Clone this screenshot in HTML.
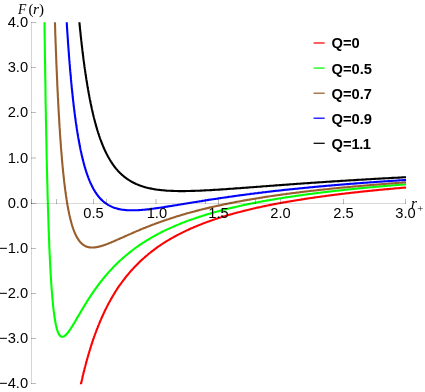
<!DOCTYPE html><html><head><meta charset="utf-8"><style>
html,body{margin:0;padding:0;background:#fff}
body{width:425px;height:392px;position:relative;overflow:hidden;font-family:"Liberation Sans",sans-serif;color:#000}
#w{position:absolute;left:0;top:0;width:425px;height:392px;will-change:transform}
.t{position:absolute;font-size:14.7px;line-height:16px;white-space:nowrap}
.yl{right:396.9px;text-align:right}
.xl{transform:translateX(-50%)}
.lg{font-weight:bold;left:331.6px}
.s{font-family:"Liberation Serif",serif;line-height:0;position:absolute}
.i{font-style:italic}
</style></head><body><div id="w">
<svg width="425" height="392" viewBox="0 0 425 392" style="position:absolute;left:0;top:0">
<defs><clipPath id="cp"><rect x="31" y="22.25" width="375.2" height="362.00"/></clipPath></defs>
<g fill="none" stroke-width="2.1" stroke-linejoin="round" clip-path="url(#cp)">
<path d="M75.7,410.4L75.9,409.6L76.0,408.8L76.2,408.0L76.3,407.3L76.5,406.5L76.6,405.7L76.7,404.9L76.9,404.2L77.0,403.4L77.2,402.6L77.3,401.9L77.5,401.1L77.6,400.4L77.7,399.6L77.9,398.9L78.0,398.2L78.2,397.5L78.3,396.7L78.5,396.0L78.6,395.3L78.7,394.6L78.9,393.9L79.0,393.2L79.2,392.5L79.3,391.8L79.5,391.1L79.6,390.4L79.7,389.7L79.9,389.1L80.0,388.4L80.2,387.7L80.3,387.0L80.5,386.4L80.6,385.7L80.7,385.1L80.9,384.4L81.0,383.8L81.2,383.1L81.3,382.5L81.5,381.9L81.6,381.2L81.7,380.6L81.9,380.0L82.0,379.4L82.2,378.7L82.3,378.1L82.4,377.5L82.6,376.9L82.7,376.3L82.9,375.7L83.0,375.1L83.2,374.5L83.3,373.9L83.4,373.3L83.6,372.7L83.7,372.2L83.9,371.6L84.0,371.0L84.2,370.4L84.3,369.9L84.4,369.3L84.6,368.7L84.7,368.2L84.9,367.6L85.0,367.1L85.2,366.5L85.3,366.0L85.4,365.4L85.6,364.9L85.7,364.3L85.9,363.8L86.0,363.3L86.2,362.7L86.3,362.2L86.4,361.7L86.6,361.2L86.7,360.6L86.9,360.1L87.0,359.6L87.2,359.1L87.3,358.6L87.4,358.1L87.6,357.6L87.7,357.1L87.9,356.6L88.0,356.1L88.2,355.6L88.3,355.1L88.4,354.6L88.6,354.1L88.7,353.6L88.9,353.1L89.0,352.7L89.2,352.2L89.3,351.7L89.4,351.2L89.6,350.8L89.7,350.3L89.9,349.8L90.0,349.4L90.2,348.9L90.3,348.4L90.4,348.0L90.6,347.5L90.7,347.1L90.9,346.6L91.0,346.2L91.2,345.7L91.3,345.3L91.4,344.9L91.6,344.4L91.7,344.0L91.9,343.5L92.0,343.1L92.2,342.7L92.3,342.2L92.4,341.8L92.6,341.4L92.7,341.0L92.9,340.5L93.0,340.1L93.1,339.7L93.3,339.3L93.4,338.9L93.6,338.5L93.7,338.0L93.9,337.6L94.0,337.2L94.1,336.8L94.3,336.4L94.4,336.0L94.6,335.6L94.7,335.2L94.9,334.8L95.0,334.4L95.1,334.0L95.3,333.6L95.4,333.3L95.6,332.9L95.7,332.5L95.9,332.1L96.0,331.7L96.1,331.3L96.3,331.0L96.4,330.6L96.6,330.2L96.7,329.8L96.9,329.5L97.0,329.1L97.1,328.7L97.3,328.4L97.4,328.0L97.6,327.6L97.7,327.3L97.9,326.9L98.0,326.5L98.1,326.2L98.3,325.8L98.4,325.5L98.6,325.1L98.7,324.8L98.9,324.4L99.0,324.1L99.1,323.7L99.3,323.4L99.4,323.0L99.6,322.7L99.7,322.3L99.9,322.0L100.0,321.7L100.1,321.3L100.3,321.0L100.4,320.6L100.6,320.3L100.7,320.0L100.9,319.6L101.0,319.3L101.1,319.0L101.3,318.7L101.4,318.3L101.6,318.0L101.7,317.7L101.9,317.4L102.0,317.0L102.1,316.7L102.3,316.4L102.4,316.1L102.6,315.8L102.7,315.5L102.9,315.2L103.0,314.8L103.1,314.5L103.3,314.2L103.4,313.9L103.6,313.6L103.7,313.3L103.8,313.0L104.0,312.7L104.1,312.4L104.3,312.1L104.4,311.8L104.6,311.5L104.7,311.2L104.8,310.9L105.0,310.6L105.1,310.3L105.3,310.0L105.4,309.7L105.6,309.4L105.7,309.1L105.8,308.9L106.0,308.6L107.0,306.6L108.0,304.6L109.0,302.8L110.0,300.9L111.0,299.1L112.0,297.4L113.0,295.7L114.0,294.0L115.0,292.4L116.0,290.8L117.0,289.2L118.0,287.7L119.0,286.2L120.0,284.8L121.1,283.4L122.1,282.0L123.1,280.6L124.1,279.3L125.1,278.0L126.1,276.7L127.1,275.5L128.1,274.3L129.1,273.1L130.1,271.9L131.1,270.8L132.1,269.7L133.1,268.6L134.1,267.5L135.1,266.4L136.1,265.4L137.1,264.4L138.1,263.4L139.1,262.4L140.1,261.4L141.1,260.5L142.1,259.6L143.1,258.7L144.2,257.8L145.2,256.9L146.2,256.0L147.2,255.2L148.2,254.3L149.2,253.5L150.2,252.7L151.2,251.9L152.2,251.1L153.2,250.4L154.2,249.6L155.2,248.9L156.2,248.1L157.2,247.4L158.2,246.7L159.2,246.0L160.2,245.3L161.2,244.7L162.2,244.0L163.2,243.3L164.2,242.7L165.2,242.1L166.2,241.4L167.2,240.8L168.3,240.2L169.3,239.6L170.3,239.0L171.3,238.4L172.3,237.9L173.3,237.3L174.3,236.7L175.3,236.2L176.3,235.7L177.3,235.1L178.3,234.6L179.3,234.1L180.3,233.6L181.3,233.1L182.3,232.6L183.3,232.1L184.3,231.6L185.3,231.1L186.3,230.6L187.3,230.1L188.3,229.7L189.3,229.2L190.3,228.8L191.3,228.3L192.4,227.9L193.4,227.5L194.4,227.0L195.4,226.6L196.4,226.2L197.4,225.8L198.4,225.4L199.4,225.0L200.4,224.6L201.4,224.2L202.4,223.8L203.4,223.4L204.4,223.0L205.4,222.6L206.4,222.3L207.4,221.9L208.4,221.5L209.4,221.2L210.4,220.8L211.4,220.5L212.4,220.1L213.4,219.8L214.4,219.4L215.4,219.1L216.5,218.8L217.5,218.4L218.5,218.1L219.5,217.8L220.5,217.5L221.5,217.1L222.5,216.8L223.5,216.5L224.5,216.2L225.5,215.9L226.5,215.6L227.5,215.3L228.5,215.0L229.5,214.7L230.5,214.4L231.5,214.2L232.5,213.9L233.5,213.6L234.5,213.3L235.5,213.1L236.5,212.8L237.5,212.5L238.5,212.2L239.6,212.0L240.6,211.7L241.6,211.5L242.6,211.2L243.6,210.9L244.6,210.7L245.6,210.4L246.6,210.2L247.6,210.0L248.6,209.7L249.6,209.5L250.6,209.2L251.6,209.0L252.6,208.8L253.6,208.5L254.6,208.3L255.6,208.1L256.6,207.8L257.6,207.6L258.6,207.4L259.6,207.2L260.6,207.0L261.6,206.7L262.6,206.5L263.7,206.3L264.7,206.1L265.7,205.9L266.7,205.7L267.7,205.5L268.7,205.3L269.7,205.1L270.7,204.9L271.7,204.7L272.7,204.5L273.7,204.3L274.7,204.1L275.7,203.9L276.7,203.7L277.7,203.5L278.7,203.3L279.7,203.2L280.7,203.0L281.7,202.8L282.7,202.6L283.7,202.4L284.7,202.2L285.7,202.1L286.7,201.9L287.8,201.7L288.8,201.5L289.8,201.4L290.8,201.2L291.8,201.0L292.8,200.9L293.8,200.7L294.8,200.5L295.8,200.4L296.8,200.2L297.8,200.0L298.8,199.9L299.8,199.7L300.8,199.6L301.8,199.4L302.8,199.2L303.8,199.1L304.8,198.9L305.8,198.8L306.8,198.6L307.8,198.5L308.8,198.3L309.8,198.2L310.8,198.0L311.9,197.9L312.9,197.7L313.9,197.6L314.9,197.4L315.9,197.3L316.9,197.2L317.9,197.0L318.9,196.9L319.9,196.7L320.9,196.6L321.9,196.5L322.9,196.3L323.9,196.2L324.9,196.1L325.9,195.9L326.9,195.8L327.9,195.7L328.9,195.5L329.9,195.4L330.9,195.3L331.9,195.1L332.9,195.0L333.9,194.9L335.0,194.8L336.0,194.6L337.0,194.5L338.0,194.4L339.0,194.3L340.0,194.1L341.0,194.0L342.0,193.9L343.0,193.8L344.0,193.7L345.0,193.5L346.0,193.4L347.0,193.3L348.0,193.2L349.0,193.1L350.0,193.0L351.0,192.8L352.0,192.7L353.0,192.6L354.0,192.5L355.0,192.4L356.0,192.3L357.0,192.2L358.0,192.1L359.1,192.0L360.1,191.8L361.1,191.7L362.1,191.6L363.1,191.5L364.1,191.4L365.1,191.3L366.1,191.2L367.1,191.1L368.1,191.0L369.1,190.9L370.1,190.8L371.1,190.7L372.1,190.6L373.1,190.5L374.1,190.4L375.1,190.3L376.1,190.2L377.1,190.1L378.1,190.0L379.1,189.9L380.1,189.8L381.1,189.7L382.1,189.6L383.2,189.5L384.2,189.4L385.2,189.3L386.2,189.2L387.2,189.1L388.2,189.1L389.2,189.0L390.2,188.9L391.2,188.8L392.2,188.7L393.2,188.6L394.2,188.5L395.2,188.4L396.2,188.3L397.2,188.2L398.2,188.2L399.2,188.1L400.2,188.0L401.2,187.9L402.2,187.8L403.2,187.7L404.2,187.6L405.2,187.6L406.2,187.5" stroke="#ff0000"/>
<path d="M44.2,-3.2L44.4,9.2L44.5,21.2L44.6,32.8L44.8,43.9L44.9,54.5L45.1,64.8L45.2,74.6L45.4,84.1L45.5,93.2L45.6,102.0L45.8,110.5L45.9,118.6L46.1,126.5L46.2,134.0L46.4,141.3L46.5,148.3L46.6,155.1L46.8,161.6L46.9,167.9L47.1,174.0L47.2,179.8L47.4,185.4L47.5,190.9L47.6,196.1L47.8,201.2L47.9,206.1L48.1,210.8L48.2,215.4L48.4,219.8L48.5,224.0L48.6,228.2L48.8,232.1L48.9,235.9L49.1,239.6L49.2,243.2L49.3,246.7L49.5,250.0L49.6,253.2L49.8,256.4L49.9,259.4L50.1,262.3L50.2,265.1L50.3,267.8L50.5,270.4L50.6,273.0L50.8,275.4L50.9,277.8L51.1,280.1L51.2,282.3L51.3,284.4L51.5,286.5L51.6,288.5L51.8,290.4L51.9,292.3L52.1,294.1L52.2,295.8L52.3,297.5L52.5,299.1L52.6,300.7L52.8,302.2L52.9,303.7L53.1,305.1L53.2,306.5L53.3,307.8L53.5,309.1L53.6,310.3L53.8,311.5L53.9,312.6L54.1,313.7L54.2,314.8L54.3,315.8L54.5,316.8L54.6,317.8L54.8,318.7L54.9,319.6L55.1,320.4L55.2,321.3L55.3,322.1L55.5,322.8L55.6,323.6L55.8,324.3L55.9,325.0L56.1,325.6L56.2,326.2L56.3,326.8L56.5,327.4L56.6,328.0L56.8,328.5L56.9,329.0L57.1,329.5L57.2,330.0L57.3,330.4L57.5,330.8L57.6,331.2L57.8,331.6L57.9,332.0L58.1,332.4L58.2,332.7L58.3,333.0L58.5,333.3L58.6,333.6L58.8,333.9L58.9,334.1L59.1,334.4L59.2,334.6L59.3,334.8L59.5,335.0L59.6,335.2L59.8,335.4L59.9,335.6L60.0,335.7L60.2,335.9L60.3,336.0L60.5,336.1L60.6,336.2L60.8,336.3L60.9,336.4L61.0,336.5L61.2,336.5L61.3,336.6L61.5,336.7L61.6,336.7L61.8,336.7L61.9,336.8L62.0,336.8L62.2,336.8L62.3,336.8L62.5,336.8L62.6,336.8L62.8,336.7L62.9,336.7L63.0,336.7L63.2,336.6L63.3,336.6L63.5,336.5L63.6,336.5L63.8,336.4L63.9,336.3L64.0,336.3L64.2,336.2L64.3,336.1L64.5,336.0L64.6,335.9L64.8,335.8L64.9,335.7L65.0,335.6L65.2,335.5L65.3,335.3L65.5,335.2L65.6,335.1L65.8,335.0L65.9,334.8L66.0,334.7L66.2,334.5L66.3,334.4L66.5,334.2L66.6,334.1L66.8,333.9L66.9,333.8L67.0,333.6L67.2,333.4L67.3,333.3L67.5,333.1L67.6,332.9L67.8,332.8L67.9,332.6L68.0,332.4L68.2,332.2L68.3,332.0L68.5,331.8L68.6,331.6L68.8,331.4L68.9,331.2L69.0,331.0L69.2,330.9L69.3,330.6L69.5,330.4L69.6,330.2L69.8,330.0L69.9,329.8L70.0,329.6L70.2,329.4L70.3,329.2L70.5,329.0L70.6,328.8L70.8,328.5L70.9,328.3L71.0,328.1L71.2,327.9L71.3,327.7L71.5,327.4L71.6,327.2L71.7,327.0L71.9,326.8L72.0,326.5L72.2,326.3L72.3,326.1L72.5,325.8L72.6,325.6L72.7,325.4L72.9,325.1L73.0,324.9L73.2,324.7L73.3,324.4L73.5,324.2L73.6,324.0L73.7,323.7L73.9,323.5L74.0,323.3L74.2,323.0L74.3,322.8L74.5,322.5L74.6,322.3L74.7,322.1L74.9,321.8L75.0,321.6L75.2,321.3L75.3,321.1L75.5,320.9L75.6,320.6L75.7,320.4L75.9,320.1L76.0,319.9L76.2,319.6L76.3,319.4L76.5,319.2L76.6,318.9L76.7,318.7L76.9,318.4L77.0,318.2L77.2,317.9L77.3,317.7L77.5,317.4L77.6,317.2L77.7,317.0L77.9,316.7L78.0,316.5L78.2,316.2L78.3,316.0L78.5,315.7L78.6,315.5L78.7,315.2L78.9,315.0L79.0,314.8L79.2,314.5L79.3,314.3L79.5,314.0L79.6,313.8L79.7,313.5L79.9,313.3L80.0,313.0L80.2,312.8L80.3,312.6L80.5,312.3L80.6,312.1L80.7,311.8L80.9,311.6L81.0,311.4L81.2,311.1L81.3,310.9L81.5,310.6L81.6,310.4L81.7,310.1L81.9,309.9L82.0,309.7L82.2,309.4L82.3,309.2L82.4,308.9L82.6,308.7L82.7,308.5L82.9,308.2L83.0,308.0L83.2,307.8L83.3,307.5L83.4,307.3L83.6,307.0L83.7,306.8L83.9,306.6L84.0,306.3L84.2,306.1L84.3,305.9L84.4,305.6L84.6,305.4L84.7,305.2L84.9,304.9L85.0,304.7L85.2,304.5L85.3,304.2L85.4,304.0L85.6,303.8L85.7,303.5L85.9,303.3L86.0,303.1L86.2,302.8L86.3,302.6L86.4,302.4L86.6,302.2L86.7,301.9L86.9,301.7L87.0,301.5L87.2,301.2L87.3,301.0L87.4,300.8L87.6,300.6L87.7,300.3L87.9,300.1L88.0,299.9L88.2,299.7L88.3,299.4L88.4,299.2L88.6,299.0L88.7,298.8L88.9,298.6L89.0,298.3L89.2,298.1L89.3,297.9L89.4,297.7L89.6,297.5L89.7,297.2L89.9,297.0L90.0,296.8L90.2,296.6L90.3,296.4L90.4,296.1L90.6,295.9L90.7,295.7L90.9,295.5L91.0,295.3L91.2,295.1L91.3,294.9L91.4,294.6L91.6,294.4L91.7,294.2L91.9,294.0L92.0,293.8L92.2,293.6L92.3,293.4L92.4,293.2L92.6,293.0L92.7,292.7L92.9,292.5L93.0,292.3L93.1,292.1L93.3,291.9L93.4,291.7L93.6,291.5L93.7,291.3L93.9,291.1L94.0,290.9L94.1,290.7L94.3,290.5L94.4,290.3L94.6,290.1L94.7,289.9L94.9,289.7L95.0,289.5L95.1,289.3L95.3,289.1L95.4,288.9L95.6,288.7L95.7,288.5L95.9,288.3L96.0,288.1L96.1,287.9L96.3,287.7L96.4,287.5L96.6,287.3L96.7,287.1L96.9,286.9L97.0,286.7L97.1,286.5L97.3,286.3L97.4,286.1L97.6,285.9L97.7,285.7L97.9,285.5L98.0,285.3L98.1,285.1L98.3,285.0L98.4,284.8L98.6,284.6L98.7,284.4L98.9,284.2L99.0,284.0L99.1,283.8L99.3,283.6L99.4,283.4L99.6,283.3L99.7,283.1L99.9,282.9L100.0,282.7L100.1,282.5L100.3,282.3L100.4,282.1L100.6,282.0L100.7,281.8L100.9,281.6L101.0,281.4L101.1,281.2L101.3,281.0L101.4,280.9L101.6,280.7L101.7,280.5L101.9,280.3L102.0,280.1L102.1,280.0L102.3,279.8L102.4,279.6L102.6,279.4L102.7,279.3L102.9,279.1L103.0,278.9L103.1,278.7L103.3,278.6L103.4,278.4L103.6,278.2L103.7,278.0L103.8,277.9L104.0,277.7L104.1,277.5L104.3,277.3L104.4,277.2L104.6,277.0L104.7,276.8L104.8,276.7L105.0,276.5L105.1,276.3L105.3,276.1L105.4,276.0L105.6,275.8L105.7,275.6L105.8,275.5L106.0,275.3L107.0,274.1L108.0,273.0L109.0,271.9L110.0,270.7L111.0,269.7L112.0,268.6L113.0,267.5L114.0,266.5L115.0,265.5L116.0,264.5L117.0,263.5L118.0,262.5L119.0,261.6L120.0,260.6L121.1,259.7L122.1,258.8L123.1,257.9L124.1,257.0L125.1,256.2L126.1,255.3L127.1,254.5L128.1,253.7L129.1,252.9L130.1,252.1L131.1,251.3L132.1,250.5L133.1,249.7L134.1,249.0L135.1,248.2L136.1,247.5L137.1,246.8L138.1,246.1L139.1,245.4L140.1,244.7L141.1,244.0L142.1,243.4L143.1,242.7L144.2,242.1L145.2,241.4L146.2,240.8L147.2,240.2L148.2,239.6L149.2,239.0L150.2,238.4L151.2,237.8L152.2,237.2L153.2,236.6L154.2,236.1L155.2,235.5L156.2,235.0L157.2,234.4L158.2,233.9L159.2,233.4L160.2,232.9L161.2,232.3L162.2,231.8L163.2,231.3L164.2,230.9L165.2,230.4L166.2,229.9L167.2,229.4L168.3,228.9L169.3,228.5L170.3,228.0L171.3,227.6L172.3,227.1L173.3,226.7L174.3,226.2L175.3,225.8L176.3,225.4L177.3,225.0L178.3,224.6L179.3,224.1L180.3,223.7L181.3,223.3L182.3,222.9L183.3,222.5L184.3,222.2L185.3,221.8L186.3,221.4L187.3,221.0L188.3,220.6L189.3,220.3L190.3,219.9L191.3,219.6L192.4,219.2L193.4,218.9L194.4,218.5L195.4,218.2L196.4,217.8L197.4,217.5L198.4,217.2L199.4,216.8L200.4,216.5L201.4,216.2L202.4,215.9L203.4,215.5L204.4,215.2L205.4,214.9L206.4,214.6L207.4,214.3L208.4,214.0L209.4,213.7L210.4,213.4L211.4,213.1L212.4,212.8L213.4,212.6L214.4,212.3L215.4,212.0L216.5,211.7L217.5,211.4L218.5,211.2L219.5,210.9L220.5,210.6L221.5,210.4L222.5,210.1L223.5,209.9L224.5,209.6L225.5,209.3L226.5,209.1L227.5,208.8L228.5,208.6L229.5,208.3L230.5,208.1L231.5,207.9L232.5,207.6L233.5,207.4L234.5,207.2L235.5,206.9L236.5,206.7L237.5,206.5L238.5,206.2L239.6,206.0L240.6,205.8L241.6,205.6L242.6,205.3L243.6,205.1L244.6,204.9L245.6,204.7L246.6,204.5L247.6,204.3L248.6,204.1L249.6,203.9L250.6,203.7L251.6,203.5L252.6,203.3L253.6,203.1L254.6,202.9L255.6,202.7L256.6,202.5L257.6,202.3L258.6,202.1L259.6,201.9L260.6,201.7L261.6,201.5L262.6,201.3L263.7,201.1L264.7,201.0L265.7,200.8L266.7,200.6L267.7,200.4L268.7,200.2L269.7,200.1L270.7,199.9L271.7,199.7L272.7,199.6L273.7,199.4L274.7,199.2L275.7,199.0L276.7,198.9L277.7,198.7L278.7,198.5L279.7,198.4L280.7,198.2L281.7,198.1L282.7,197.9L283.7,197.7L284.7,197.6L285.7,197.4L286.7,197.3L287.8,197.1L288.8,197.0L289.8,196.8L290.8,196.7L291.8,196.5L292.8,196.4L293.8,196.2L294.8,196.1L295.8,195.9L296.8,195.8L297.8,195.6L298.8,195.5L299.8,195.4L300.8,195.2L301.8,195.1L302.8,194.9L303.8,194.8L304.8,194.7L305.8,194.5L306.8,194.4L307.8,194.3L308.8,194.1L309.8,194.0L310.8,193.9L311.9,193.7L312.9,193.6L313.9,193.5L314.9,193.3L315.9,193.2L316.9,193.1L317.9,193.0L318.9,192.8L319.9,192.7L320.9,192.6L321.9,192.5L322.9,192.3L323.9,192.2L324.9,192.1L325.9,192.0L326.9,191.9L327.9,191.7L328.9,191.6L329.9,191.5L330.9,191.4L331.9,191.3L332.9,191.2L333.9,191.0L335.0,190.9L336.0,190.8L337.0,190.7L338.0,190.6L339.0,190.5L340.0,190.4L341.0,190.3L342.0,190.2L343.0,190.0L344.0,189.9L345.0,189.8L346.0,189.7L347.0,189.6L348.0,189.5L349.0,189.4L350.0,189.3L351.0,189.2L352.0,189.1L353.0,189.0L354.0,188.9L355.0,188.8L356.0,188.7L357.0,188.6L358.0,188.5L359.1,188.4L360.1,188.3L361.1,188.2L362.1,188.1L363.1,188.0L364.1,187.9L365.1,187.8L366.1,187.7L367.1,187.6L368.1,187.5L369.1,187.4L370.1,187.3L371.1,187.3L372.1,187.2L373.1,187.1L374.1,187.0L375.1,186.9L376.1,186.8L377.1,186.7L378.1,186.6L379.1,186.5L380.1,186.4L381.1,186.4L382.1,186.3L383.2,186.2L384.2,186.1L385.2,186.0L386.2,185.9L387.2,185.8L388.2,185.8L389.2,185.7L390.2,185.6L391.2,185.5L392.2,185.4L393.2,185.3L394.2,185.3L395.2,185.2L396.2,185.1L397.2,185.0L398.2,184.9L399.2,184.8L400.2,184.8L401.2,184.7L402.2,184.6L403.2,184.5L404.2,184.5L405.2,184.4L406.2,184.3" stroke="#00ff00"/>
<path d="M54.2,-1.4L54.3,3.5L54.5,8.3L54.6,12.9L54.8,17.5L54.9,22.0L55.1,26.4L55.2,30.6L55.3,34.8L55.5,38.9L55.6,42.9L55.8,46.9L55.9,50.7L56.1,54.5L56.2,58.2L56.3,61.8L56.5,65.3L56.6,68.8L56.8,72.2L56.9,75.5L57.1,78.7L57.2,81.9L57.3,85.1L57.5,88.1L57.6,91.1L57.8,94.1L57.9,96.9L58.1,99.8L58.2,102.5L58.3,105.2L58.5,107.9L58.6,110.5L58.8,113.1L58.9,115.6L59.1,118.0L59.2,120.4L59.3,122.8L59.5,125.1L59.6,127.4L59.8,129.6L59.9,131.8L60.0,133.9L60.2,136.0L60.3,138.1L60.5,140.1L60.6,142.1L60.8,144.1L60.9,146.0L61.0,147.9L61.2,149.7L61.3,151.5L61.5,153.3L61.6,155.0L61.8,156.7L61.9,158.4L62.0,160.1L62.2,161.7L62.3,163.3L62.5,164.8L62.6,166.4L62.8,167.9L62.9,169.3L63.0,170.8L63.2,172.2L63.3,173.6L63.5,175.0L63.6,176.3L63.8,177.6L63.9,178.9L64.0,180.2L64.2,181.5L64.3,182.7L64.5,183.9L64.6,185.1L64.8,186.3L64.9,187.4L65.0,188.5L65.2,189.6L65.3,190.7L65.5,191.8L65.6,192.8L65.8,193.9L65.9,194.9L66.0,195.9L66.2,196.8L66.3,197.8L66.5,198.7L66.6,199.7L66.8,200.6L66.9,201.5L67.0,202.3L67.2,203.2L67.3,204.0L67.5,204.9L67.6,205.7L67.8,206.5L67.9,207.3L68.0,208.1L68.2,208.8L68.3,209.6L68.5,210.3L68.6,211.0L68.8,211.8L68.9,212.5L69.0,213.1L69.2,213.8L69.3,214.5L69.5,215.1L69.6,215.8L69.8,216.4L69.9,217.0L70.0,217.6L70.2,218.2L70.3,218.8L70.5,219.4L70.6,220.0L70.8,220.5L70.9,221.1L71.0,221.6L71.2,222.1L71.3,222.7L71.5,223.2L71.6,223.7L71.7,224.2L71.9,224.7L72.0,225.1L72.2,225.6L72.3,226.1L72.5,226.5L72.6,227.0L72.7,227.4L72.9,227.8L73.0,228.2L73.2,228.7L73.3,229.1L73.5,229.5L73.6,229.9L73.7,230.2L73.9,230.6L74.0,231.0L74.2,231.4L74.3,231.7L74.5,232.1L74.6,232.4L74.7,232.8L74.9,233.1L75.0,233.4L75.2,233.7L75.3,234.1L75.5,234.4L75.6,234.7L75.7,235.0L75.9,235.3L76.0,235.6L76.2,235.8L76.3,236.1L76.5,236.4L76.6,236.7L76.7,236.9L76.9,237.2L77.0,237.4L77.2,237.7L77.3,237.9L77.5,238.2L77.6,238.4L77.7,238.6L77.9,238.9L78.0,239.1L78.2,239.3L78.3,239.5L78.5,239.7L78.6,239.9L78.7,240.1L78.9,240.3L79.0,240.5L79.2,240.7L79.3,240.9L79.5,241.1L79.6,241.3L79.7,241.5L79.9,241.6L80.0,241.8L80.2,242.0L80.3,242.1L80.5,242.3L80.6,242.4L80.7,242.6L80.9,242.7L81.0,242.9L81.2,243.0L81.3,243.2L81.5,243.3L81.6,243.4L81.7,243.6L81.9,243.7L82.0,243.8L82.2,244.0L82.3,244.1L82.4,244.2L82.6,244.3L82.7,244.4L82.9,244.5L83.0,244.6L83.2,244.7L83.3,244.8L83.4,244.9L83.6,245.0L83.7,245.1L83.9,245.2L84.0,245.3L84.2,245.4L84.3,245.5L84.4,245.6L84.6,245.7L84.7,245.7L84.9,245.8L85.0,245.9L85.2,246.0L85.3,246.0L85.4,246.1L85.6,246.2L85.7,246.2L85.9,246.3L86.0,246.4L86.2,246.4L86.3,246.5L86.4,246.5L86.6,246.6L86.7,246.6L86.9,246.7L87.0,246.7L87.2,246.8L87.3,246.8L87.4,246.9L87.6,246.9L87.7,247.0L87.9,247.0L88.0,247.0L88.2,247.1L88.3,247.1L88.4,247.1L88.6,247.2L88.7,247.2L88.9,247.2L89.0,247.3L89.2,247.3L89.3,247.3L89.4,247.3L89.6,247.3L89.7,247.4L89.9,247.4L90.0,247.4L90.2,247.4L90.3,247.4L90.4,247.5L90.6,247.5L90.7,247.5L90.9,247.5L91.0,247.5L91.2,247.5L91.3,247.5L91.4,247.5L91.6,247.5L91.7,247.5L91.9,247.5L92.0,247.5L92.2,247.5L92.3,247.5L92.4,247.5L92.6,247.5L92.7,247.5L92.9,247.5L93.0,247.5L93.1,247.5L93.3,247.5L93.4,247.5L93.6,247.5L93.7,247.5L93.9,247.5L94.0,247.5L94.1,247.5L94.3,247.4L94.4,247.4L94.6,247.4L94.7,247.4L94.9,247.4L95.0,247.4L95.1,247.3L95.3,247.3L95.4,247.3L95.6,247.3L95.7,247.3L95.9,247.2L96.0,247.2L96.1,247.2L96.3,247.2L96.4,247.2L96.6,247.1L96.7,247.1L96.9,247.1L97.0,247.1L97.1,247.0L97.3,247.0L97.4,247.0L97.6,246.9L97.7,246.9L97.9,246.9L98.0,246.9L98.1,246.8L98.3,246.8L98.4,246.8L98.6,246.7L98.7,246.7L98.9,246.7L99.0,246.6L99.1,246.6L99.3,246.6L99.4,246.5L99.6,246.5L99.7,246.4L99.9,246.4L100.0,246.4L100.1,246.3L100.3,246.3L100.4,246.3L100.6,246.2L100.7,246.2L100.9,246.1L101.0,246.1L101.1,246.1L101.3,246.0L101.4,246.0L101.6,245.9L101.7,245.9L101.9,245.8L102.0,245.8L102.1,245.7L102.3,245.7L102.4,245.7L102.6,245.6L102.7,245.6L102.9,245.5L103.0,245.5L103.1,245.4L103.3,245.4L103.4,245.3L103.6,245.3L103.7,245.2L103.8,245.2L104.0,245.1L104.1,245.1L104.3,245.0L104.4,245.0L104.6,244.9L104.7,244.9L104.8,244.8L105.0,244.8L105.1,244.7L105.3,244.7L105.4,244.6L105.6,244.6L105.7,244.5L105.8,244.5L106.0,244.4L107.0,244.1L108.0,243.7L109.0,243.3L110.0,242.9L111.0,242.5L112.0,242.0L113.0,241.6L114.0,241.2L115.0,240.7L116.0,240.3L117.0,239.9L118.0,239.4L119.0,239.0L120.0,238.5L121.1,238.1L122.1,237.6L123.1,237.2L124.1,236.7L125.1,236.3L126.1,235.8L127.1,235.4L128.1,234.9L129.1,234.5L130.1,234.1L131.1,233.6L132.1,233.2L133.1,232.7L134.1,232.3L135.1,231.9L136.1,231.4L137.1,231.0L138.1,230.6L139.1,230.2L140.1,229.7L141.1,229.3L142.1,228.9L143.1,228.5L144.2,228.1L145.2,227.7L146.2,227.3L147.2,226.9L148.2,226.5L149.2,226.1L150.2,225.7L151.2,225.3L152.2,224.9L153.2,224.5L154.2,224.2L155.2,223.8L156.2,223.4L157.2,223.1L158.2,222.7L159.2,222.3L160.2,222.0L161.2,221.6L162.2,221.3L163.2,220.9L164.2,220.6L165.2,220.2L166.2,219.9L167.2,219.5L168.3,219.2L169.3,218.9L170.3,218.5L171.3,218.2L172.3,217.9L173.3,217.6L174.3,217.2L175.3,216.9L176.3,216.6L177.3,216.3L178.3,216.0L179.3,215.7L180.3,215.4L181.3,215.1L182.3,214.8L183.3,214.5L184.3,214.2L185.3,213.9L186.3,213.6L187.3,213.3L188.3,213.0L189.3,212.8L190.3,212.5L191.3,212.2L192.4,211.9L193.4,211.7L194.4,211.4L195.4,211.1L196.4,210.9L197.4,210.6L198.4,210.4L199.4,210.1L200.4,209.8L201.4,209.6L202.4,209.3L203.4,209.1L204.4,208.8L205.4,208.6L206.4,208.4L207.4,208.1L208.4,207.9L209.4,207.6L210.4,207.4L211.4,207.2L212.4,206.9L213.4,206.7L214.4,206.5L215.4,206.3L216.5,206.0L217.5,205.8L218.5,205.6L219.5,205.4L220.5,205.2L221.5,204.9L222.5,204.7L223.5,204.5L224.5,204.3L225.5,204.1L226.5,203.9L227.5,203.7L228.5,203.5L229.5,203.3L230.5,203.1L231.5,202.9L232.5,202.7L233.5,202.5L234.5,202.3L235.5,202.1L236.5,201.9L237.5,201.7L238.5,201.5L239.6,201.4L240.6,201.2L241.6,201.0L242.6,200.8L243.6,200.6L244.6,200.4L245.6,200.3L246.6,200.1L247.6,199.9L248.6,199.7L249.6,199.6L250.6,199.4L251.6,199.2L252.6,199.0L253.6,198.9L254.6,198.7L255.6,198.5L256.6,198.4L257.6,198.2L258.6,198.1L259.6,197.9L260.6,197.7L261.6,197.6L262.6,197.4L263.7,197.3L264.7,197.1L265.7,196.9L266.7,196.8L267.7,196.6L268.7,196.5L269.7,196.3L270.7,196.2L271.7,196.0L272.7,195.9L273.7,195.7L274.7,195.6L275.7,195.5L276.7,195.3L277.7,195.2L278.7,195.0L279.7,194.9L280.7,194.7L281.7,194.6L282.7,194.5L283.7,194.3L284.7,194.2L285.7,194.1L286.7,193.9L287.8,193.8L288.8,193.7L289.8,193.5L290.8,193.4L291.8,193.3L292.8,193.1L293.8,193.0L294.8,192.9L295.8,192.7L296.8,192.6L297.8,192.5L298.8,192.4L299.8,192.2L300.8,192.1L301.8,192.0L302.8,191.9L303.8,191.8L304.8,191.6L305.8,191.5L306.8,191.4L307.8,191.3L308.8,191.2L309.8,191.0L310.8,190.9L311.9,190.8L312.9,190.7L313.9,190.6L314.9,190.5L315.9,190.4L316.9,190.2L317.9,190.1L318.9,190.0L319.9,189.9L320.9,189.8L321.9,189.7L322.9,189.6L323.9,189.5L324.9,189.4L325.9,189.3L326.9,189.2L327.9,189.1L328.9,189.0L329.9,188.8L330.9,188.7L331.9,188.6L332.9,188.5L333.9,188.4L335.0,188.3L336.0,188.2L337.0,188.1L338.0,188.0L339.0,187.9L340.0,187.8L341.0,187.7L342.0,187.6L343.0,187.5L344.0,187.4L345.0,187.4L346.0,187.3L347.0,187.2L348.0,187.1L349.0,187.0L350.0,186.9L351.0,186.8L352.0,186.7L353.0,186.6L354.0,186.5L355.0,186.4L356.0,186.3L357.0,186.2L358.0,186.2L359.1,186.1L360.1,186.0L361.1,185.9L362.1,185.8L363.1,185.7L364.1,185.6L365.1,185.5L366.1,185.5L367.1,185.4L368.1,185.3L369.1,185.2L370.1,185.1L371.1,185.0L372.1,184.9L373.1,184.9L374.1,184.8L375.1,184.7L376.1,184.6L377.1,184.5L378.1,184.5L379.1,184.4L380.1,184.3L381.1,184.2L382.1,184.1L383.2,184.1L384.2,184.0L385.2,183.9L386.2,183.8L387.2,183.7L388.2,183.7L389.2,183.6L390.2,183.5L391.2,183.4L392.2,183.4L393.2,183.3L394.2,183.2L395.2,183.1L396.2,183.1L397.2,183.0L398.2,182.9L399.2,182.8L400.2,182.8L401.2,182.7L402.2,182.6L403.2,182.5L404.2,182.5L405.2,182.4L406.2,182.3" stroke="#985f2c"/>
<path d="M65.3,-1.9L65.5,0.8L65.6,3.4L65.8,6.0L65.9,8.5L66.0,11.0L66.2,13.5L66.3,15.9L66.5,18.3L66.6,20.7L66.8,23.0L66.9,25.3L67.0,27.6L67.2,29.8L67.3,32.0L67.5,34.2L67.6,36.3L67.8,38.4L67.9,40.5L68.0,42.6L68.2,44.6L68.3,46.6L68.5,48.6L68.6,50.5L68.8,52.4L68.9,54.3L69.0,56.2L69.2,58.0L69.3,59.9L69.5,61.6L69.6,63.4L69.8,65.2L69.9,66.9L70.0,68.6L70.2,70.3L70.3,71.9L70.5,73.5L70.6,75.2L70.8,76.8L70.9,78.3L71.0,79.9L71.2,81.4L71.3,82.9L71.5,84.4L71.6,85.9L71.7,87.3L71.9,88.8L72.0,90.2L72.2,91.6L72.3,93.0L72.5,94.3L72.6,95.7L72.7,97.0L72.9,98.3L73.0,99.6L73.2,100.9L73.3,102.1L73.5,103.4L73.6,104.6L73.7,105.8L73.9,107.0L74.0,108.2L74.2,109.4L74.3,110.6L74.5,111.7L74.6,112.8L74.7,113.9L74.9,115.0L75.0,116.1L75.2,117.2L75.3,118.3L75.5,119.3L75.6,120.4L75.7,121.4L75.9,122.4L76.0,123.4L76.2,124.4L76.3,125.3L76.5,126.3L76.6,127.3L76.7,128.2L76.9,129.1L77.0,130.1L77.2,131.0L77.3,131.9L77.5,132.7L77.6,133.6L77.7,134.5L77.9,135.3L78.0,136.2L78.2,137.0L78.3,137.9L78.5,138.7L78.6,139.5L78.7,140.3L78.9,141.1L79.0,141.8L79.2,142.6L79.3,143.4L79.5,144.1L79.6,144.9L79.7,145.6L79.9,146.3L80.0,147.1L80.2,147.8L80.3,148.5L80.5,149.2L80.6,149.9L80.7,150.5L80.9,151.2L81.0,151.9L81.2,152.5L81.3,153.2L81.5,153.8L81.6,154.5L81.7,155.1L81.9,155.7L82.0,156.3L82.2,156.9L82.3,157.5L82.4,158.1L82.6,158.7L82.7,159.3L82.9,159.9L83.0,160.4L83.2,161.0L83.3,161.5L83.4,162.1L83.6,162.6L83.7,163.2L83.9,163.7L84.0,164.2L84.2,164.7L84.3,165.2L84.4,165.8L84.6,166.3L84.7,166.8L84.9,167.2L85.0,167.7L85.2,168.2L85.3,168.7L85.4,169.2L85.6,169.6L85.7,170.1L85.9,170.5L86.0,171.0L86.2,171.4L86.3,171.9L86.4,172.3L86.6,172.7L86.7,173.2L86.9,173.6L87.0,174.0L87.2,174.4L87.3,174.8L87.4,175.2L87.6,175.6L87.7,176.0L87.9,176.4L88.0,176.8L88.2,177.2L88.3,177.6L88.4,177.9L88.6,178.3L88.7,178.7L88.9,179.0L89.0,179.4L89.2,179.8L89.3,180.1L89.4,180.5L89.6,180.8L89.7,181.1L89.9,181.5L90.0,181.8L90.2,182.1L90.3,182.5L90.4,182.8L90.6,183.1L90.7,183.4L90.9,183.7L91.0,184.0L91.2,184.3L91.3,184.6L91.4,184.9L91.6,185.2L91.7,185.5L91.9,185.8L92.0,186.1L92.2,186.4L92.3,186.7L92.4,187.0L92.6,187.2L92.7,187.5L92.9,187.8L93.0,188.0L93.1,188.3L93.3,188.6L93.4,188.8L93.6,189.1L93.7,189.3L93.9,189.6L94.0,189.8L94.1,190.1L94.3,190.3L94.4,190.6L94.6,190.8L94.7,191.0L94.9,191.3L95.0,191.5L95.1,191.7L95.3,191.9L95.4,192.2L95.6,192.4L95.7,192.6L95.9,192.8L96.0,193.0L96.1,193.2L96.3,193.5L96.4,193.7L96.6,193.9L96.7,194.1L96.9,194.3L97.0,194.5L97.1,194.7L97.3,194.9L97.4,195.1L97.6,195.2L97.7,195.4L97.9,195.6L98.0,195.8L98.1,196.0L98.3,196.2L98.4,196.3L98.6,196.5L98.7,196.7L98.9,196.9L99.0,197.0L99.1,197.2L99.3,197.4L99.4,197.5L99.6,197.7L99.7,197.9L99.9,198.0L100.0,198.2L100.1,198.3L100.3,198.5L100.4,198.7L100.6,198.8L100.7,199.0L100.9,199.1L101.0,199.3L101.1,199.4L101.3,199.5L101.4,199.7L101.6,199.8L101.7,200.0L101.9,200.1L102.0,200.2L102.1,200.4L102.3,200.5L102.4,200.6L102.6,200.8L102.7,200.9L102.9,201.0L103.0,201.2L103.1,201.3L103.3,201.4L103.4,201.5L103.6,201.7L103.7,201.8L103.8,201.9L104.0,202.0L104.1,202.1L104.3,202.2L104.4,202.4L104.6,202.5L104.7,202.6L104.8,202.7L105.0,202.8L105.1,202.9L105.3,203.0L105.4,203.1L105.6,203.2L105.7,203.3L105.8,203.4L106.0,203.5L107.0,204.2L108.0,204.8L109.0,205.4L110.0,205.9L111.0,206.4L112.0,206.9L113.0,207.3L114.0,207.7L115.0,208.0L116.0,208.3L117.0,208.6L118.0,208.9L119.0,209.1L120.0,209.3L121.1,209.5L122.1,209.7L123.1,209.8L124.1,209.9L125.1,210.0L126.1,210.1L127.1,210.2L128.1,210.2L129.1,210.3L130.1,210.3L131.1,210.3L132.1,210.3L133.1,210.3L134.1,210.3L135.1,210.3L136.1,210.3L137.1,210.2L138.1,210.2L139.1,210.1L140.1,210.0L141.1,210.0L142.1,209.9L143.1,209.8L144.2,209.7L145.2,209.6L146.2,209.5L147.2,209.4L148.2,209.3L149.2,209.2L150.2,209.1L151.2,208.9L152.2,208.8L153.2,208.7L154.2,208.5L155.2,208.4L156.2,208.3L157.2,208.1L158.2,208.0L159.2,207.8L160.2,207.7L161.2,207.5L162.2,207.4L163.2,207.2L164.2,207.1L165.2,206.9L166.2,206.8L167.2,206.6L168.3,206.4L169.3,206.3L170.3,206.1L171.3,206.0L172.3,205.8L173.3,205.6L174.3,205.5L175.3,205.3L176.3,205.2L177.3,205.0L178.3,204.8L179.3,204.7L180.3,204.5L181.3,204.3L182.3,204.2L183.3,204.0L184.3,203.8L185.3,203.7L186.3,203.5L187.3,203.3L188.3,203.2L189.3,203.0L190.3,202.8L191.3,202.7L192.4,202.5L193.4,202.3L194.4,202.2L195.4,202.0L196.4,201.9L197.4,201.7L198.4,201.5L199.4,201.4L200.4,201.2L201.4,201.1L202.4,200.9L203.4,200.7L204.4,200.6L205.4,200.4L206.4,200.3L207.4,200.1L208.4,199.9L209.4,199.8L210.4,199.6L211.4,199.5L212.4,199.3L213.4,199.2L214.4,199.0L215.4,198.9L216.5,198.7L217.5,198.6L218.5,198.4L219.5,198.3L220.5,198.1L221.5,198.0L222.5,197.8L223.5,197.7L224.5,197.5L225.5,197.4L226.5,197.2L227.5,197.1L228.5,196.9L229.5,196.8L230.5,196.7L231.5,196.5L232.5,196.4L233.5,196.2L234.5,196.1L235.5,196.0L236.5,195.8L237.5,195.7L238.5,195.5L239.6,195.4L240.6,195.3L241.6,195.1L242.6,195.0L243.6,194.9L244.6,194.7L245.6,194.6L246.6,194.5L247.6,194.3L248.6,194.2L249.6,194.1L250.6,193.9L251.6,193.8L252.6,193.7L253.6,193.6L254.6,193.4L255.6,193.3L256.6,193.2L257.6,193.1L258.6,192.9L259.6,192.8L260.6,192.7L261.6,192.6L262.6,192.4L263.7,192.3L264.7,192.2L265.7,192.1L266.7,192.0L267.7,191.8L268.7,191.7L269.7,191.6L270.7,191.5L271.7,191.4L272.7,191.3L273.7,191.1L274.7,191.0L275.7,190.9L276.7,190.8L277.7,190.7L278.7,190.6L279.7,190.5L280.7,190.4L281.7,190.2L282.7,190.1L283.7,190.0L284.7,189.9L285.7,189.8L286.7,189.7L287.8,189.6L288.8,189.5L289.8,189.4L290.8,189.3L291.8,189.2L292.8,189.1L293.8,189.0L294.8,188.9L295.8,188.8L296.8,188.7L297.8,188.6L298.8,188.5L299.8,188.4L300.8,188.3L301.8,188.2L302.8,188.1L303.8,188.0L304.8,187.9L305.8,187.8L306.8,187.7L307.8,187.6L308.8,187.5L309.8,187.4L310.8,187.3L311.9,187.2L312.9,187.1L313.9,187.0L314.9,186.9L315.9,186.8L316.9,186.7L317.9,186.6L318.9,186.5L319.9,186.4L320.9,186.4L321.9,186.3L322.9,186.2L323.9,186.1L324.9,186.0L325.9,185.9L326.9,185.8L327.9,185.7L328.9,185.6L329.9,185.6L330.9,185.5L331.9,185.4L332.9,185.3L333.9,185.2L335.0,185.1L336.0,185.0L337.0,185.0L338.0,184.9L339.0,184.8L340.0,184.7L341.0,184.6L342.0,184.5L343.0,184.5L344.0,184.4L345.0,184.3L346.0,184.2L347.0,184.1L348.0,184.1L349.0,184.0L350.0,183.9L351.0,183.8L352.0,183.7L353.0,183.7L354.0,183.6L355.0,183.5L356.0,183.4L357.0,183.4L358.0,183.3L359.1,183.2L360.1,183.1L361.1,183.0L362.1,183.0L363.1,182.9L364.1,182.8L365.1,182.7L366.1,182.7L367.1,182.6L368.1,182.5L369.1,182.5L370.1,182.4L371.1,182.3L372.1,182.2L373.1,182.2L374.1,182.1L375.1,182.0L376.1,182.0L377.1,181.9L378.1,181.8L379.1,181.7L380.1,181.7L381.1,181.6L382.1,181.5L383.2,181.5L384.2,181.4L385.2,181.3L386.2,181.3L387.2,181.2L388.2,181.1L389.2,181.1L390.2,181.0L391.2,180.9L392.2,180.9L393.2,180.8L394.2,180.7L395.2,180.7L396.2,180.6L397.2,180.5L398.2,180.5L399.2,180.4L400.2,180.3L401.2,180.3L402.2,180.2L403.2,180.1L404.2,180.1L405.2,180.0L406.2,180.0" stroke="#0000ff"/>
<path d="M77.0,-4.0L77.2,-2.3L77.3,-0.5L77.5,1.2L77.6,2.8L77.7,4.5L77.9,6.1L78.0,7.8L78.2,9.4L78.3,11.0L78.5,12.5L78.6,14.1L78.7,15.6L78.9,17.2L79.0,18.7L79.2,20.2L79.3,21.6L79.5,23.1L79.6,24.6L79.7,26.0L79.9,27.4L80.0,28.8L80.2,30.2L80.3,31.6L80.5,33.0L80.6,34.3L80.7,35.6L80.9,37.0L81.0,38.3L81.2,39.6L81.3,40.9L81.5,42.1L81.6,43.4L81.7,44.6L81.9,45.9L82.0,47.1L82.2,48.3L82.3,49.5L82.4,50.7L82.6,51.9L82.7,53.0L82.9,54.2L83.0,55.3L83.2,56.5L83.3,57.6L83.4,58.7L83.6,59.8L83.7,60.9L83.9,62.0L84.0,63.0L84.2,64.1L84.3,65.1L84.4,66.2L84.6,67.2L84.7,68.2L84.9,69.2L85.0,70.2L85.2,71.2L85.3,72.2L85.4,73.2L85.6,74.1L85.7,75.1L85.9,76.0L86.0,77.0L86.2,77.9L86.3,78.8L86.4,79.7L86.6,80.6L86.7,81.5L86.9,82.4L87.0,83.3L87.2,84.2L87.3,85.0L87.4,85.9L87.6,86.7L87.7,87.6L87.9,88.4L88.0,89.2L88.2,90.0L88.3,90.8L88.4,91.6L88.6,92.4L88.7,93.2L88.9,94.0L89.0,94.8L89.2,95.5L89.3,96.3L89.4,97.0L89.6,97.8L89.7,98.5L89.9,99.3L90.0,100.0L90.2,100.7L90.3,101.4L90.4,102.1L90.6,102.8L90.7,103.5L90.9,104.2L91.0,104.9L91.2,105.6L91.3,106.3L91.4,106.9L91.6,107.6L91.7,108.2L91.9,108.9L92.0,109.5L92.2,110.2L92.3,110.8L92.4,111.4L92.6,112.0L92.7,112.7L92.9,113.3L93.0,113.9L93.1,114.5L93.3,115.1L93.4,115.7L93.6,116.3L93.7,116.8L93.9,117.4L94.0,118.0L94.1,118.5L94.3,119.1L94.4,119.7L94.6,120.2L94.7,120.8L94.9,121.3L95.0,121.8L95.1,122.4L95.3,122.9L95.4,123.4L95.6,124.0L95.7,124.5L95.9,125.0L96.0,125.5L96.1,126.0L96.3,126.5L96.4,127.0L96.6,127.5L96.7,128.0L96.9,128.5L97.0,128.9L97.1,129.4L97.3,129.9L97.4,130.3L97.6,130.8L97.7,131.3L97.9,131.7L98.0,132.2L98.1,132.6L98.3,133.1L98.4,133.5L98.6,134.0L98.7,134.4L98.9,134.8L99.0,135.3L99.1,135.7L99.3,136.1L99.4,136.5L99.6,136.9L99.7,137.3L99.9,137.8L100.0,138.2L100.1,138.6L100.3,139.0L100.4,139.4L100.6,139.7L100.7,140.1L100.9,140.5L101.0,140.9L101.1,141.3L101.3,141.7L101.4,142.0L101.6,142.4L101.7,142.8L101.9,143.1L102.0,143.5L102.1,143.9L102.3,144.2L102.4,144.6L102.6,144.9L102.7,145.3L102.9,145.6L103.0,146.0L103.1,146.3L103.3,146.6L103.4,147.0L103.6,147.3L103.7,147.6L103.8,148.0L104.0,148.3L104.1,148.6L104.3,148.9L104.4,149.3L104.6,149.6L104.7,149.9L104.8,150.2L105.0,150.5L105.1,150.8L105.3,151.1L105.4,151.4L105.6,151.7L105.7,152.0L105.8,152.3L106.0,152.6L107.0,154.6L108.0,156.5L109.0,158.3L110.0,160.0L111.0,161.6L112.0,163.1L113.0,164.6L114.0,166.0L115.0,167.3L116.0,168.6L117.0,169.7L118.0,170.9L119.0,171.9L120.0,173.0L121.1,173.9L122.1,174.9L123.1,175.7L124.1,176.6L125.1,177.4L126.1,178.1L127.1,178.9L128.1,179.5L129.1,180.2L130.1,180.8L131.1,181.4L132.1,182.0L133.1,182.5L134.1,183.0L135.1,183.5L136.1,184.0L137.1,184.4L138.1,184.8L139.1,185.2L140.1,185.6L141.1,185.9L142.1,186.3L143.1,186.6L144.2,186.9L145.2,187.2L146.2,187.5L147.2,187.7L148.2,188.0L149.2,188.2L150.2,188.4L151.2,188.6L152.2,188.8L153.2,189.0L154.2,189.2L155.2,189.4L156.2,189.5L157.2,189.7L158.2,189.8L159.2,189.9L160.2,190.0L161.2,190.1L162.2,190.2L163.2,190.3L164.2,190.4L165.2,190.5L166.2,190.6L167.2,190.7L168.3,190.7L169.3,190.8L170.3,190.8L171.3,190.9L172.3,190.9L173.3,190.9L174.3,191.0L175.3,191.0L176.3,191.0L177.3,191.0L178.3,191.1L179.3,191.1L180.3,191.1L181.3,191.1L182.3,191.1L183.3,191.1L184.3,191.1L185.3,191.1L186.3,191.0L187.3,191.0L188.3,191.0L189.3,191.0L190.3,191.0L191.3,190.9L192.4,190.9L193.4,190.9L194.4,190.9L195.4,190.8L196.4,190.8L197.4,190.7L198.4,190.7L199.4,190.7L200.4,190.6L201.4,190.6L202.4,190.5L203.4,190.5L204.4,190.4L205.4,190.4L206.4,190.3L207.4,190.3L208.4,190.2L209.4,190.2L210.4,190.1L211.4,190.1L212.4,190.0L213.4,189.9L214.4,189.9L215.4,189.8L216.5,189.7L217.5,189.7L218.5,189.6L219.5,189.6L220.5,189.5L221.5,189.4L222.5,189.4L223.5,189.3L224.5,189.2L225.5,189.2L226.5,189.1L227.5,189.0L228.5,188.9L229.5,188.9L230.5,188.8L231.5,188.7L232.5,188.7L233.5,188.6L234.5,188.5L235.5,188.4L236.5,188.4L237.5,188.3L238.5,188.2L239.6,188.2L240.6,188.1L241.6,188.0L242.6,187.9L243.6,187.9L244.6,187.8L245.6,187.7L246.6,187.6L247.6,187.6L248.6,187.5L249.6,187.4L250.6,187.3L251.6,187.3L252.6,187.2L253.6,187.1L254.6,187.0L255.6,187.0L256.6,186.9L257.6,186.8L258.6,186.7L259.6,186.7L260.6,186.6L261.6,186.5L262.6,186.4L263.7,186.3L264.7,186.3L265.7,186.2L266.7,186.1L267.7,186.0L268.7,186.0L269.7,185.9L270.7,185.8L271.7,185.7L272.7,185.7L273.7,185.6L274.7,185.5L275.7,185.4L276.7,185.4L277.7,185.3L278.7,185.2L279.7,185.1L280.7,185.1L281.7,185.0L282.7,184.9L283.7,184.9L284.7,184.8L285.7,184.7L286.7,184.6L287.8,184.6L288.8,184.5L289.8,184.4L290.8,184.3L291.8,184.3L292.8,184.2L293.8,184.1L294.8,184.0L295.8,184.0L296.8,183.9L297.8,183.8L298.8,183.8L299.8,183.7L300.8,183.6L301.8,183.5L302.8,183.5L303.8,183.4L304.8,183.3L305.8,183.3L306.8,183.2L307.8,183.1L308.8,183.1L309.8,183.0L310.8,182.9L311.9,182.8L312.9,182.8L313.9,182.7L314.9,182.6L315.9,182.6L316.9,182.5L317.9,182.4L318.9,182.4L319.9,182.3L320.9,182.2L321.9,182.2L322.9,182.1L323.9,182.0L324.9,182.0L325.9,181.9L326.9,181.8L327.9,181.8L328.9,181.7L329.9,181.6L330.9,181.6L331.9,181.5L332.9,181.4L333.9,181.4L335.0,181.3L336.0,181.2L337.0,181.2L338.0,181.1L339.0,181.1L340.0,181.0L341.0,180.9L342.0,180.9L343.0,180.8L344.0,180.7L345.0,180.7L346.0,180.6L347.0,180.5L348.0,180.5L349.0,180.4L350.0,180.4L351.0,180.3L352.0,180.2L353.0,180.2L354.0,180.1L355.0,180.1L356.0,180.0L357.0,179.9L358.0,179.9L359.1,179.8L360.1,179.8L361.1,179.7L362.1,179.6L363.1,179.6L364.1,179.5L365.1,179.5L366.1,179.4L367.1,179.3L368.1,179.3L369.1,179.2L370.1,179.2L371.1,179.1L372.1,179.0L373.1,179.0L374.1,178.9L375.1,178.9L376.1,178.8L377.1,178.8L378.1,178.7L379.1,178.6L380.1,178.6L381.1,178.5L382.1,178.5L383.2,178.4L384.2,178.4L385.2,178.3L386.2,178.3L387.2,178.2L388.2,178.2L389.2,178.1L390.2,178.0L391.2,178.0L392.2,177.9L393.2,177.9L394.2,177.8L395.2,177.8L396.2,177.7L397.2,177.7L398.2,177.6L399.2,177.6L400.2,177.5L401.2,177.5L402.2,177.4L403.2,177.3L404.2,177.3L405.2,177.2L406.2,177.2" stroke="#000000"/>
</g>
<g shape-rendering="crispEdges" fill="#000">
<rect x="31" y="22" width="1" height="362" fill-opacity="0.165"/>
<rect x="31" y="203" width="375" height="1" fill-opacity="0.15"/>
<rect x="31" y="22" width="5" height="1" fill-opacity="0.27"/>
<rect x="31" y="67" width="5" height="1" fill-opacity="0.27"/>
<rect x="31" y="112" width="5" height="1" fill-opacity="0.27"/>
<rect x="31" y="157" width="5" height="2" fill-opacity="0.14"/>
<rect x="31" y="203" width="5" height="1" fill-opacity="0.27"/>
<rect x="31" y="248" width="5" height="1" fill-opacity="0.27"/>
<rect x="31" y="293" width="5" height="1" fill-opacity="0.27"/>
<rect x="31" y="338" width="5" height="1" fill-opacity="0.27"/>
<rect x="31" y="383" width="5" height="1" fill-opacity="0.27"/>
<rect x="93" y="199" width="1" height="5" fill-opacity="0.27"/>
<rect x="155" y="199" width="2" height="5" fill-opacity="0.14"/>
<rect x="218" y="199" width="1" height="5" fill-opacity="0.27"/>
<rect x="280" y="199" width="1" height="5" fill-opacity="0.27"/>
<rect x="343" y="199" width="1" height="5" fill-opacity="0.27"/>
<rect x="405" y="199" width="1" height="5" fill-opacity="0.27"/>
<rect x="56" y="199" width="1" height="5" fill-opacity="0.27"/>
<rect x="106" y="199" width="1" height="5" fill-opacity="0.27"/>
<rect x="205" y="199" width="1" height="5" fill-opacity="0.27"/>
<rect x="255" y="199" width="1" height="5" fill-opacity="0.27"/>
<rect x="31" y="199" width="1" height="5" fill-opacity="0.27"/>
</g>
<g stroke-width="1.25">
<line x1="313.6" y1="43.0" x2="324.7" y2="43.0" stroke="#ff0000"/>
<line x1="313.6" y1="68.1" x2="324.7" y2="68.1" stroke="#00ff00"/>
<line x1="313.6" y1="93.2" x2="324.7" y2="93.2" stroke="#985f2c"/>
<line x1="313.6" y1="118.2" x2="324.7" y2="118.2" stroke="#0000ff"/>
<line x1="313.6" y1="143.3" x2="324.7" y2="143.3" stroke="#000000"/>
</g>
</svg>
<div class="t yl" style="top:14.20px">4.0</div>
<div class="t yl" style="top:59.20px">3.0</div>
<div class="t yl" style="top:104.20px">2.0</div>
<div class="t yl" style="top:149.70px">1.0</div>
<div class="t yl" style="top:195.20px">0.0</div>
<div class="t yl" style="top:240.20px">−1.0</div>
<div class="t yl" style="top:285.20px">−2.0</div>
<div class="t yl" style="top:330.20px">−3.0</div>
<div class="t yl" style="top:375.20px">−4.0</div>
<div class="t xl" style="left:93.50px;top:204.70px">0.5</div>
<div class="t xl" style="left:156.90px;top:204.70px">1.0</div>
<div class="t xl" style="left:218.50px;top:204.70px">1.5</div>
<div class="t xl" style="left:280.50px;top:204.70px">2.0</div>
<div class="t xl" style="left:343.50px;top:204.70px">2.5</div>
<div class="t xl" style="left:405.50px;top:204.70px">3.0</div>
<div class="t lg" style="top:35.40px">Q=0</div>
<div class="t lg" style="top:60.50px">Q=0.5</div>
<div class="t lg" style="top:85.60px">Q=0.7</div>
<div class="t lg" style="top:110.60px">Q=0.9</div>
<div class="t lg" style="top:135.70px">Q=<span style="letter-spacing:-0.6px">1.1</span></div>
<span class="s i" style="left:17.60px;top:8.52px;font-size:15.5px;transform:scaleX(0.87);transform-origin:0 0">F</span>
<span class="s" style="left:28.60px;top:8.79px;font-size:15px">(</span>
<span class="s i" style="left:32.50px;top:8.96px;font-size:14.2px;transform:scaleX(1.08);transform-origin:0 0">r</span>
<span class="s" style="left:39.10px;top:8.79px;font-size:15px">)</span>
<span class="s i" style="left:411.40px;top:203.01px;font-size:14.2px;transform:scaleX(1.08);transform-origin:0 0">r</span>
<span class="s" style="left:417.30px;top:209.36px;font-size:10.5px">+</span>
</div></body></html>
